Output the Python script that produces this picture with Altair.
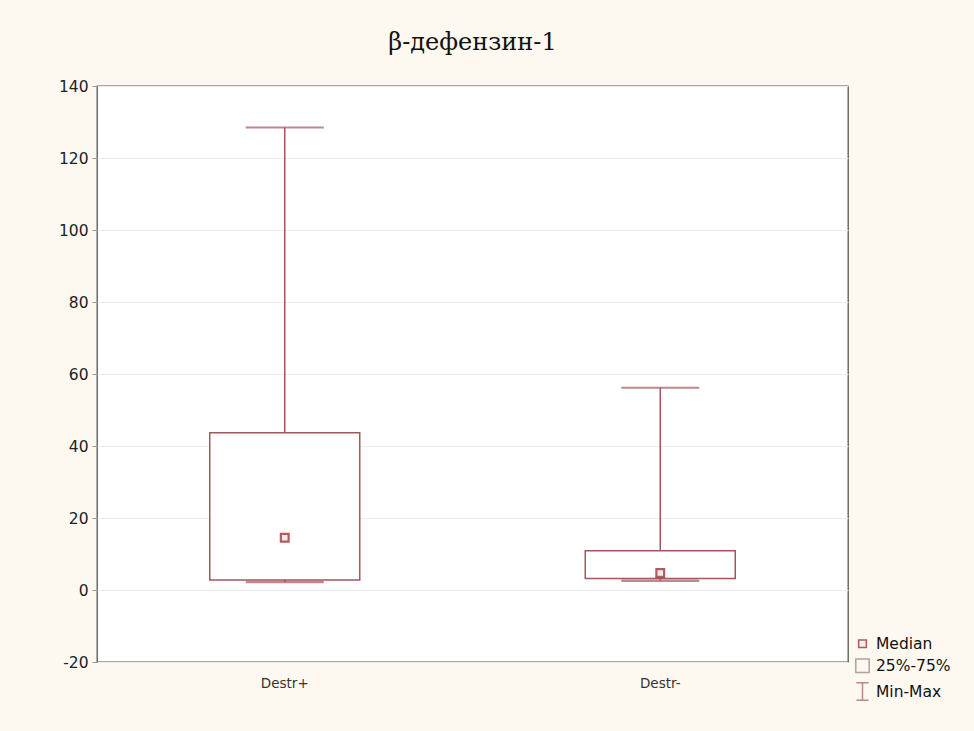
import altair as alt
import pandas as pd

categories = ["Destr+", "Destr-"]
mins = [2.2, 2.6]
q1s = [2.8, 3.2]
medians = [14.5, 4.7]
q3s = [43.7, 10.9]
maxs = [128.5, 56.2]

legend_labels = ["Median", "25%-75%", "Min-Max"]

df = pd.DataFrame({
    "cat": categories,
    "min": mins,
    "q1": q1s,
    "median": medians,
    "q3": q3s,
    "max": maxs,
    "kind": ["Median"] * len(categories),
})

BOX = "#A3565E"
MED = "#8E1A22"

xenc = alt.X("cat:N", sort=categories,
             scale=alt.Scale(domain=categories, paddingInner=0, paddingOuter=0),
             axis=alt.Axis(title=None, labelAngle=0, labelFontSize=13.5,
                           labelFont="DejaVu Sans", labelColor="#333333",
                           labelPadding=14, ticks=False, domain=False, grid=False))
yscale = alt.Scale(domain=[-20, 140], nice=False, zero=False)
yaxis = alt.Axis(title=None, values=list(range(-20, 141, 20)), labelFontSize=15.5,
                 labelFont="DejaVu Sans", labelColor="#222222",
                 labelExpr="toString(datum.value)",
                 tickSize=5, tickColor="#999999", labelPadding=4, domain=False,
                 gridColor="#EBEBEB", gridWidth=1)

base = alt.Chart(df)

whisk_hi = base.mark_rule(color=BOX, strokeWidth=1.5).encode(
    x=xenc, y=alt.Y("q3:Q", scale=yscale, axis=yaxis), y2="max:Q")
whisk_lo = base.mark_rule(color=BOX, strokeWidth=1.5).encode(
    x=xenc, y=alt.Y("min:Q", scale=yscale), y2="q1:Q")
cap_hi = base.mark_tick(color=BOX, size=78, thickness=2).encode(
    x=xenc, y=alt.Y("max:Q", scale=yscale))
cap_lo = base.mark_tick(color=BOX, size=78, thickness=2.5).encode(
    x=xenc, y=alt.Y("min:Q", scale=yscale))
box = base.mark_bar(width=150, fill="white", stroke=BOX, strokeWidth=1.5).encode(
    x=xenc, y=alt.Y("q1:Q", scale=yscale), y2="q3:Q")

leg = dict(title=None, orient="none", legendX=756, legendY=550)
med = base.mark_point(filled=False, strokeWidth=2.2).encode(
    x=xenc,
    y=alt.Y("median:Q", scale=yscale),
    shape=alt.Shape("kind:N", scale=alt.Scale(
        domain=legend_labels,
        range=["square", "square", "M-0.7,-1H0.7M0,-1V1M-0.7,1H0.7"]),
        legend=alt.Legend(**leg)),
    stroke=alt.Stroke("kind:N", scale=alt.Scale(
        domain=legend_labels, range=[MED, "#9A7A7A", BOX]),
        legend=alt.Legend(**leg)),
    fill=alt.Fill("kind:N", scale=alt.Scale(
        domain=legend_labels, range=["#F6E0E0", "transparent", "transparent"]),
        legend=alt.Legend(**leg)),
    size=alt.Size("kind:N", scale=alt.Scale(
        domain=legend_labels, range=[60, 300, 300]),
        legend=alt.Legend(**leg)),
)

chart = alt.layer(whisk_hi, whisk_lo, cap_hi, cap_lo, box, med).properties(
    width=751, height=576,
    title=alt.TitleParams("β-дефензин-1", font="DejaVu Serif", fontSize=24,
                          fontWeight="normal", color="#111111", offset=24,
                          anchor="middle"),
    autosize=alt.AutoSizeParams(type="none"),
    padding={"left": 97, "top": 86, "right": 126, "bottom": 69},
    background="#FDF9F1",
).configure_view(
    fill="white", stroke="#555555", strokeWidth=1.3
).configure_legend(
    labelFontSize=15.5, labelFont="DejaVu Sans", labelColor="#111111",
    rowPadding=3, symbolStrokeWidth=1.5, labelOffset=4
)

chart.save("out.html", embed_options={"renderer": "svg", "actions": False})
